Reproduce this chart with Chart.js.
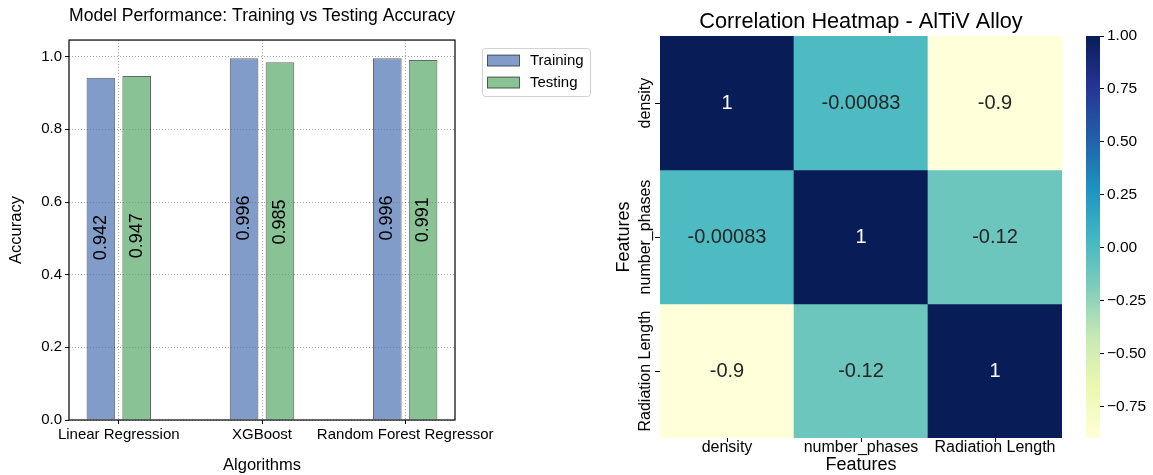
<!DOCTYPE html>
<html><head><meta charset="utf-8">
<script src="https://cdn.jsdelivr.net/npm/chart.js@4.4.0/dist/chart.umd.min.js"></script>
<style>
html,body{margin:0;padding:0;background:#fff;width:1153px;height:475px;overflow:hidden}
.box{position:absolute;top:0;height:475px}
#b1{left:0;width:600px}
#b2{left:600px;width:475px}
#b3{left:1075px;width:78px}
canvas{display:block}
</style></head><body>
<div class="box" id="b1"><canvas id="c1" width="600" height="475"></canvas></div>
<div class="box" id="b2"><canvas id="c2" width="475" height="475"></canvas></div>
<div class="box" id="b3"><canvas id="c3" width="78" height="475"></canvas></div>
<script>
// ---- data ----
const algorithms = ['Linear Regression', 'XGBoost', 'Random Forest Regressor'];
const trainingAcc = [0.942, 0.996, 0.996];
const testingAcc = [0.947, 0.985, 0.991];
const accuracyTicks = [0, 0.2, 0.4, 0.6, 0.8, 1.0];

const features = ['density', 'number_phases', 'Radiation Length'];
const corrDensity = [1, -0.00083, -0.9];
const corrPhases = [-0.00083, 1, -0.12];
const corrRadiation = [-0.9, -0.12, 1];
const colorbarTicks = [-0.75, -0.5, -0.25, 0, 0.25, 0.5, 0.75, 1.0];

const corrRows = [corrDensity, corrPhases, corrRadiation];
const cbMin = Math.min(...corrRows.flat());
const cbMax = Math.max(...corrRows.flat());

const FONT = "'Liberation Sans', Arial, Helvetica, sans-serif";
Chart.defaults.font.family = FONT;
Chart.defaults.color = '#000';
Chart.defaults.animation = false;

// YlGnBu colormap
const YLGNBU = [[255,255,217],[237,248,177],[199,233,180],[127,205,187],[65,182,196],[29,145,192],[34,94,168],[37,52,148],[8,29,88]];
function cmap(t){
  t = Math.max(0, Math.min(1, t));
  const p = t * (YLGNBU.length - 1);
  const i = Math.min(Math.floor(p), YLGNBU.length - 2);
  const f = p - i;
  return YLGNBU[i].map((c, k) => Math.round(c + (YLGNBU[i+1][k] - c) * f));
}
const norm = v => (v - cbMin) / (cbMax - cbMin);
const rgb = a => `rgb(${a[0]},${a[1]},${a[2]})`;
function relLum(a){
  const f = c => { c /= 255; return c <= 0.03928 ? c / 12.92 : Math.pow((c + 0.055) / 1.055, 2.4); };
  return 0.2126 * f(a[0]) + 0.7152 * f(a[1]) + 0.0722 * f(a[2]);
}

// ---- left: bar chart ----
const gridStyle = {color: 'rgba(0,0,0,0.45)', lineWidth: 0.8, tickColor: '#000', tickLength: 4, tickWidth: 1, tickBorderDash: [], offset: false};

const framePlugin = {
  id: 'frame',
  afterDatasetsDraw(chart){
    const {ctx, chartArea: a} = chart;
    ctx.save();
    ctx.strokeStyle = '#000';
    ctx.lineWidth = 1.2;
    ctx.strokeRect(a.left, a.top, a.right - a.left, a.bottom - a.top);
    ctx.restore();
  }
};
const barLabelPlugin = {
  id: 'barLabels',
  afterDatasetsDraw(chart){
    const {ctx} = chart;
    const ys = chart.scales.y;
    ctx.save();
    ctx.font = '18px ' + FONT;
    ctx.fillStyle = '#000';
    ctx.textAlign = 'center';
    ctx.textBaseline = 'middle';
    chart.data.datasets.forEach((ds, di) => {
      chart.getDatasetMeta(di).data.forEach((bar, i) => {
        const v = ds.data[i].y;
        ctx.save();
        ctx.translate(bar.x, ys.getPixelForValue(v - 0.44));
        ctx.rotate(-Math.PI / 2);
        ctx.fillText(v.toFixed(3), 0, 0);
        ctx.restore();
      });
    });
    ctx.restore();
  }
};
const legendPlugin = {
  id: 'legendBox',
  afterDraw(chart){
    const {ctx, chartArea: a} = chart;
    const x0 = a.right + 27, y0 = a.top + 8;
    ctx.save();
    ctx.fillStyle = 'rgba(255,255,255,0.8)';
    ctx.strokeStyle = 'rgba(204,204,204,0.9)';
    ctx.lineWidth = 1;
    ctx.beginPath();
    ctx.roundRect(x0 + 0.5, y0 + 0.5, 108, 48, 3);
    ctx.fill(); ctx.stroke();
    ctx.font = '15px ' + FONT;
    ctx.textBaseline = 'middle';
    ctx.textAlign = 'left';
    chart.data.datasets.forEach((ds, i) => {
      const cy = y0 + 12.5 + i * 22;
      ctx.fillStyle = ds.backgroundColor;
      ctx.fillRect(x0 + 5.5, cy - 5.5, 32, 11);
      ctx.strokeStyle = ds.borderColor;
      ctx.strokeRect(x0 + 5.5, cy - 5.5, 32, 11);
      ctx.fillStyle = '#000';
      ctx.fillText(ds.label, x0 + 48, cy);
    });
    ctx.restore();
  }
};

new Chart(document.getElementById('c1'), {
  type: 'bar',
  data: {
    datasets: [
      {label: 'Training', data: trainingAcc.map((v, i) => ({x: i, y: v})),
       backgroundColor: 'rgba(76,114,176,0.7)', borderColor: 'rgba(0,0,0,0.6)', borderWidth: 1,
       categoryPercentage: 0.5, barPercentage: 0.8},
      {label: 'Testing', data: testingAcc.map((v, i) => ({x: i, y: v})),
       backgroundColor: 'rgba(85,168,104,0.7)', borderColor: 'rgba(0,0,0,0.6)', borderWidth: 1,
       categoryPercentage: 0.5, barPercentage: 0.8}
    ]
  },
  options: {
    responsive: false, animation: false,
    layout: {padding: {left: 0, right: 145, top: 0, bottom: 0}},
    plugins: {
      legend: {display: false}, tooltip: {enabled: false},
      title: {display: true, text: 'Model Performance: Training vs Testing Accuracy', fullSize: false,
              color: '#000', font: {size: 18.7, weight: 'normal'}, padding: {top: 5, bottom: 12.6}}
    },
    scales: {
      x: {type: 'linear', min: -0.3475, max: 2.3475, offset: false,
          afterBuildTicks: s => { s.ticks = algorithms.map((_, i) => ({value: i})); },
          ticks: {callback: v => algorithms[v], font: {size: 15}, padding: 2, maxRotation: 0, autoSkip: false},
          grid: gridStyle, border: {display: false, dash: [1, 2]},
          title: {display: true, text: 'Algorithms', font: {size: 16.5}, padding: {top: 0, bottom: 0}},
          afterFit: s => { s.height = 55; }},
      y: {min: 0, max: 1.0458,
          afterBuildTicks: s => { s.ticks = accuracyTicks.map(v => ({value: v})); },
          ticks: {callback: v => v.toFixed(1), font: {size: 15}, padding: 3},
          grid: gridStyle, border: {display: false, dash: [1, 2]},
          title: {display: true, text: 'Accuracy', font: {size: 16.5}, padding: {top: 7, bottom: 0}},
          afterFit: s => { s.width = 69; }}
    }
  },
  plugins: [framePlugin, barLabelPlugin, legendPlugin]
});

// ---- middle: heatmap ----
const heatTextPlugin = {
  id: 'heatText',
  afterDatasetsDraw(chart){
    const {ctx, chartArea: a} = chart;
    const xs = chart.scales.x, ys = chart.scales.y;
    ctx.save();
    ctx.textAlign = 'center';
    ctx.textBaseline = 'middle';
    ctx.font = '20px ' + FONT;
    corrRows.forEach((row, r) => {
      row.forEach((v, c) => {
        const col = cmap(norm(v));
        ctx.fillStyle = relLum(col) > 0.408 ? '#262626' : '#ffffff';
        ctx.fillText(String(v), xs.getPixelForValue(c), ys.getPixelForValue(r + 0.5));
      });
    });
    // rotated y tick labels
    ctx.fillStyle = '#000';
    ctx.font = '16px ' + FONT;
    features.forEach((f, r) => {
      ctx.save();
      ctx.translate(a.left - 14, ys.getPixelForValue(r + 0.5));
      ctx.rotate(-Math.PI / 2);
      ctx.fillText(f, 0, 0);
      ctx.restore();
    });
    ctx.restore();
  }
};

new Chart(document.getElementById('c2'), {
  type: 'bar',
  data: {
    labels: features,
    datasets: corrRows.map((row, r) => ({
      label: features[r],
      data: row.map(() => [r, r + 1]),
      backgroundColor: row.map(v => rgb(cmap(norm(v)))),
      borderWidth: 0, categoryPercentage: 1, barPercentage: 1, grouped: false
    }))
  },
  options: {
    responsive: false, animation: false,
    layout: {padding: {left: 0, right: 13, top: 0, bottom: 0}},
    plugins: {
      legend: {display: false}, tooltip: {enabled: false},
      title: {display: true, text: 'Correlation Heatmap - AlTiV Alloy', fullSize: false,
              color: '#000', font: {size: 21.7, weight: 'normal'}, padding: {top: 9, bottom: 1}}
    },
    scales: {
      x: {type: 'category', offset: true,
          grid: {drawOnChartArea: false, drawTicks: true, tickLength: 4, tickColor: '#000', offset: false},
          border: {display: false},
          ticks: {font: {size: 16}, padding: -4, maxRotation: 0, autoSkip: false},
          title: {display: true, text: 'Features', font: {size: 18}, padding: {top: 0, bottom: -1}},
          afterFit: s => { s.height = 37; }},
      y: {type: 'linear', min: 0, max: 3, reverse: true,
          afterBuildTicks: s => { s.ticks = features.map((_, i) => ({value: i + 0.5})); },
          ticks: {callback: () => '', padding: 0},
          grid: {drawOnChartArea: false, drawTicks: true, tickLength: 5, tickColor: '#000'},
          border: {display: false},
          title: {display: true, text: 'Features', font: {size: 18}, padding: {top: 13, bottom: 0}},
          afterFit: s => { s.width = 60; }}
    }
  },
  plugins: [heatTextPlugin]
});

// ---- right: colorbar ----
new Chart(document.getElementById('c3'), {
  type: 'bar',
  data: {
    labels: [''],
    datasets: [{
      data: [[cbMin, cbMax]],
      backgroundColor: (ctx) => {
        const ch = ctx.chart;
        if (!ch.chartArea || !ch.scales.y) return 'rgba(0,0,0,0)';
        const y = ch.scales.y;
        const g = ch.ctx.createLinearGradient(0, y.getPixelForValue(cbMin), 0, y.getPixelForValue(cbMax));
        YLGNBU.forEach((c, i) => g.addColorStop(i / (YLGNBU.length - 1), rgb(c)));
        return g;
      },
      borderWidth: 0, categoryPercentage: 1, barPercentage: 1
    }]
  },
  options: {
    responsive: false, animation: false,
    layout: {padding: {left: 11, right: 0, top: 36, bottom: 37}},
    plugins: {legend: {display: false}, tooltip: {enabled: false}},
    scales: {
      x: {display: false, offset: true},
      y: {position: 'right', min: cbMin, max: cbMax,
          afterBuildTicks: s => { s.ticks = colorbarTicks.map(v => ({value: v})); },
          ticks: {callback: v => (v < 0 ? '\u2212' : '') + Math.abs(v).toFixed(2), font: {size: 15.5}, padding: 3},
          grid: {drawOnChartArea: false, drawTicks: true, tickLength: 4, tickColor: '#000'},
          border: {display: false},
          afterFit: s => { s.width = 53; }}
    }
  }
});
</script>
</body></html>
